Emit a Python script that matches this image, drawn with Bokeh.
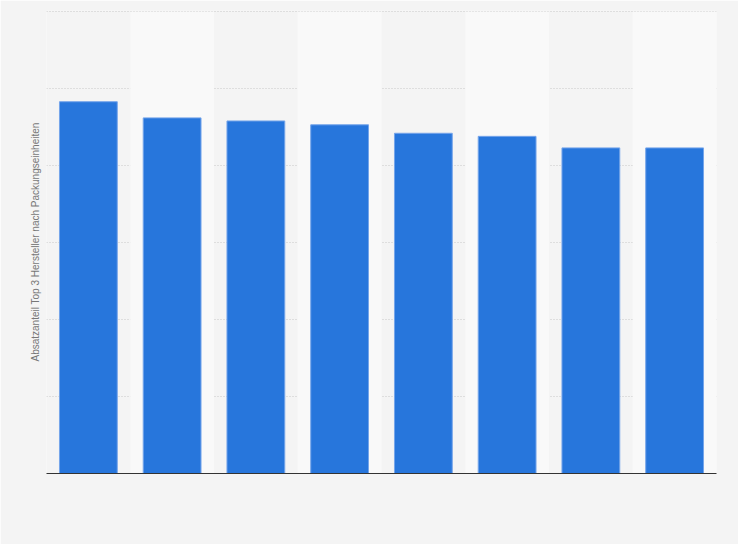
from bokeh.plotting import figure
from bokeh.models import Range1d, FixedTicker, Title, ColumnDataSource
from bokeh.embed import file_html
from bokeh.resources import INLINE

# data (x labels are hidden in the reference)
categories = ["1", "2", "3", "4", "5", "6", "7", "8"]
values = [48.3, 46.2, 45.8, 45.3, 44.2, 43.8, 42.3, 42.3]
y_ticks = [0, 10, 20, 30, 40, 50, 60]
y_label = "Absatzanteil Top 3 Hersteller nach Packungseinheiten"

BG = "#f4f4f4"

p = figure(x_range=categories, y_range=Range1d(0, 60.15),
           width=738, height=544, output_backend="svg", toolbar_location=None,
           min_border_left=46, min_border_right=22, min_border_top=10, min_border_bottom=71)
p.background_fill_color = BG
p.border_fill_color = BG
p.outline_line_color = None

# alternating light column bands
band_cats = categories[1::2]
p.vbar(x=band_cats, top=[y_ticks[-1]] * len(band_cats), bottom=0, width=1.0,
       fill_color="#f9f9f9", line_color=None)

src = ColumnDataSource(dict(x=categories, top=values))
p.vbar(x="x", top="top", source=src, width=0.69,
       fill_color="#2776dc", line_color="#75a5ea", line_width=1)

p.ygrid.ticker = FixedTicker(ticks=y_ticks)
p.ygrid.grid_line_color = "#c8c8c8"
p.ygrid.grid_line_dash = "1 2"
p.ygrid.grid_line_width = 1
p.xgrid.grid_line_color = None
p.yaxis.visible = False

p.xaxis.axis_line_color = "#333333"
p.xaxis.axis_line_width = 1
p.xaxis.major_tick_line_color = None
p.xaxis.minor_tick_line_color = None
p.xaxis.major_label_text_font_size = "0px"

p.add_layout(Title(text=y_label, align="center", standoff=11,
                   text_font="Liberation Sans", text_font_size="10px",
                   text_font_style="normal", text_color="#777777"), "left")

open("out.html", "w").write(file_html(p, INLINE))
